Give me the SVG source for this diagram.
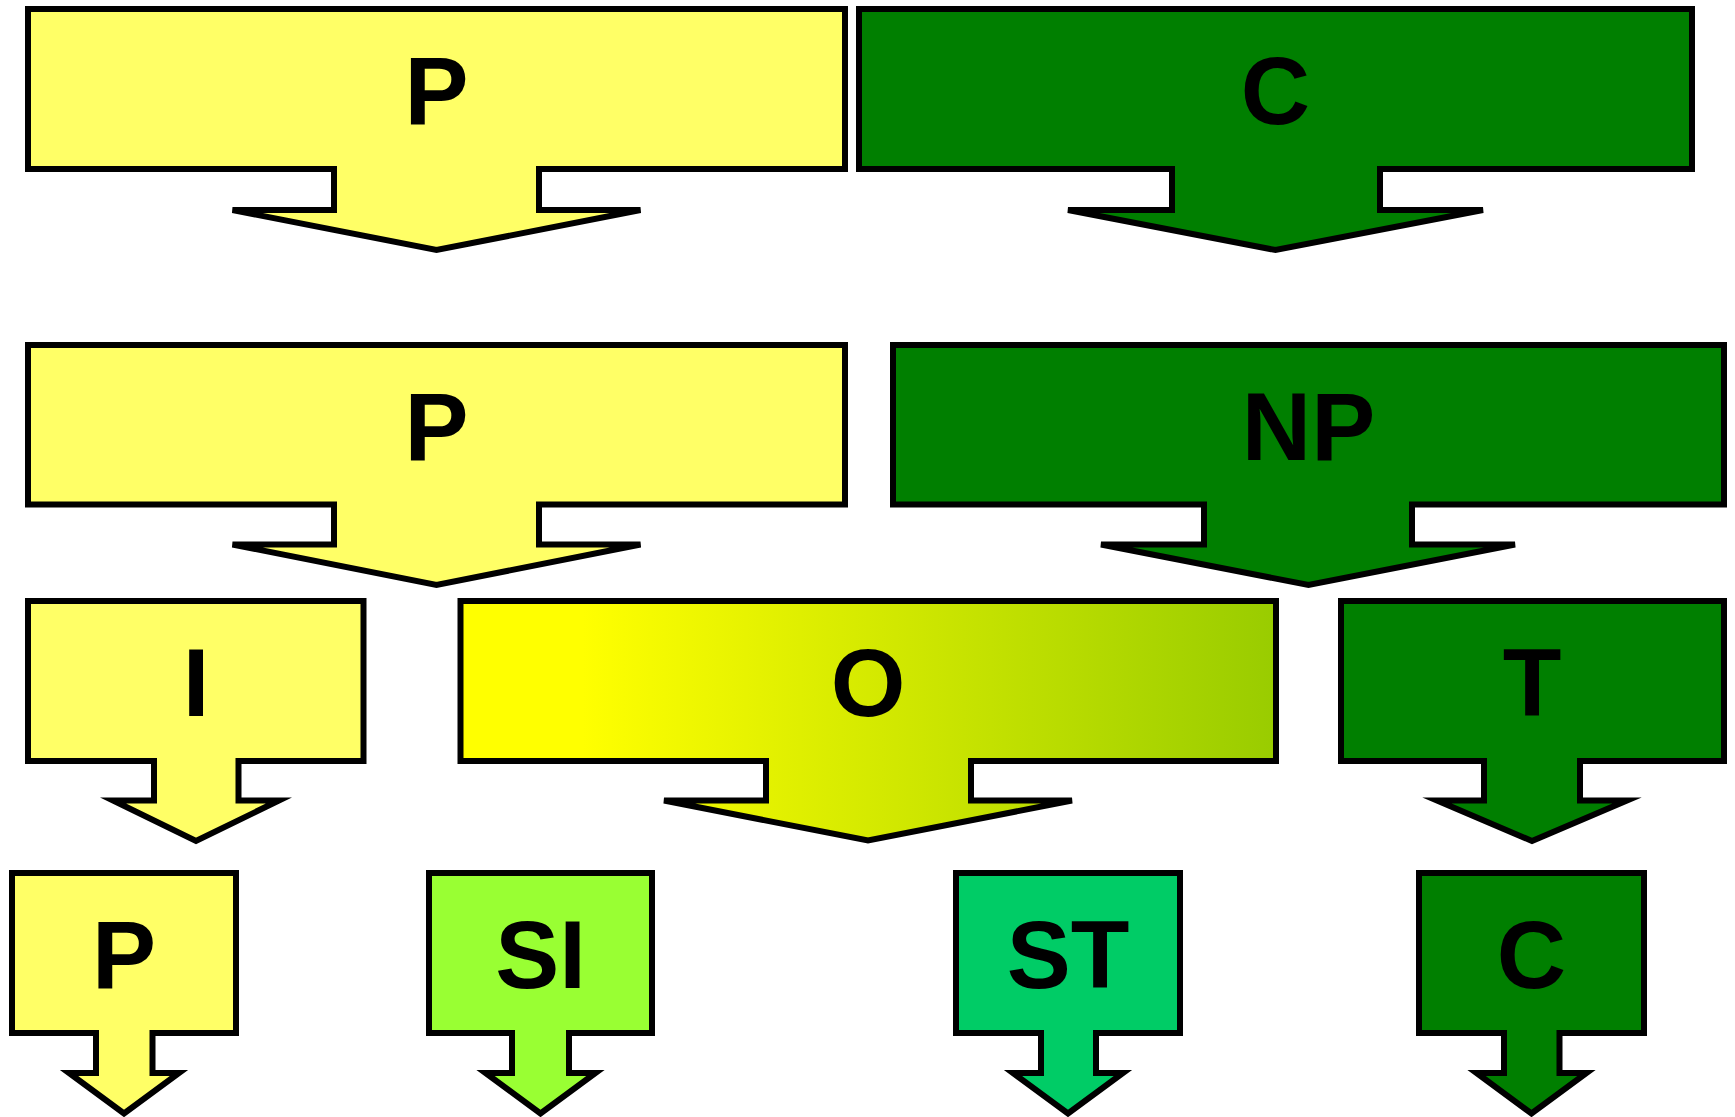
<svg xmlns="http://www.w3.org/2000/svg" width="1735" height="1117" viewBox="0 0 1735 1117">
  <defs>
    <linearGradient id="fadeYellowGreen" x1="0" y1="0" x2="1" y2="0">
      <stop offset="0" stop-color="#FFFF00"/>
      <stop offset="0.15" stop-color="#FFFF00"/>
      <stop offset="1" stop-color="#99CC00"/>
    </linearGradient>
    <style>
      .callout { stroke: #000000; stroke-width: 6; stroke-miterlimit: 8; stroke-linejoin: miter; }
      .pale { fill: #FFFF66; }
      .dark { fill: #007F00; }
      .lime { fill: #99FF33; }
      .mint { fill: #00CC66; }
      .fade { fill: url(#fadeYellowGreen); }
      .label { font-family: "Liberation Sans", Arial, sans-serif; font-weight: bold; font-size: 96px; fill: #000000; text-anchor: middle; }
    </style>
  </defs>
  <rect x="0" y="0" width="1735" height="1117" fill="#FFFFFF"/>

  <!-- row 1 -->
  <g id="node-p-top">
    <polygon class="callout pale" points="28,9 845,9 845,169 539,169 539,210 640.5,210 436.5,250 232.5,210 334,210 334,169 28,169"/>
    <text class="label" x="436.5" y="124">P</text>
  </g>
  <g id="node-c-top">
    <polygon class="callout dark" points="859,9 1692,9 1692,169 1380,169 1380,210 1483,210 1275.5,250 1068,210 1172,210 1172,169 859,169"/>
    <text class="label" x="1275.5" y="124">C</text>
  </g>

  <!-- row 2 -->
  <g id="node-p-mid">
    <polygon class="callout pale" points="28,345 845,345 845,504.5 539,504.5 539,544.5 640.5,544.5 436.5,585 232.5,544.5 334,544.5 334,504.5 28,504.5"/>
    <text class="label" x="436.5" y="459.5">P</text>
  </g>
  <g id="node-np">
    <polygon class="callout dark" points="893,345 1724,345 1724,504.5 1412,504.5 1412,544.5 1515,544.5 1308.5,585 1101,544.5 1204,544.5 1204,504.5 893,504.5"/>
    <text class="label" x="1308.5" y="459.5">NP</text>
  </g>

  <!-- row 3 -->
  <g id="node-i">
    <polygon class="callout pale" points="28,601 363.5,601 363.5,761 238.5,761 238.5,800.5 279,800.5 196,841 113,800.5 154,800.5 154,761 28,761"/>
    <text class="label" x="196" y="716">I</text>
  </g>
  <g id="node-o">
    <polygon class="callout fade" points="460.5,601 1276,601 1276,761 971,761 971,800.5 1072,800.5 868,840.5 664,800.5 766,800.5 766,761 460.5,761"/>
    <text class="label" x="868" y="716">O</text>
  </g>
  <g id="node-t">
    <polygon class="callout dark" points="1341,601 1724,601 1724,761 1580,761 1580,800.5 1627,800.5 1532,841 1437,800.5 1484,800.5 1484,761 1341,761"/>
    <text class="label" x="1532" y="716">T</text>
  </g>

  <!-- row 4 -->
  <g id="node-p-bottom">
    <polygon class="callout pale" points="12,873 236,873 236,1033 152.5,1033 152.5,1073 179,1073 124,1113.5 69,1073 96,1073 96,1033 12,1033"/>
    <text class="label" x="124" y="988">P</text>
  </g>
  <g id="node-si">
    <polygon class="callout lime" points="429,873 652,873 652,1033 569,1033 569,1073 595.5,1073 540.5,1113.5 485.5,1073 512,1073 512,1033 429,1033"/>
    <text class="label" x="540.5" y="988">SI</text>
  </g>
  <g id="node-st">
    <polygon class="callout mint" points="956,873 1180,873 1180,1033 1096,1033 1096,1073 1123,1073 1068,1113.5 1013,1073 1041,1073 1041,1033 956,1033"/>
    <text class="label" x="1068" y="988">ST</text>
  </g>
  <g id="node-c-bottom">
    <polygon class="callout dark" points="1419,873 1644,873 1644,1033 1559.5,1033 1559.5,1073 1586.5,1073 1531.5,1113.5 1476.5,1073 1504,1073 1504,1033 1419,1033"/>
    <text class="label" x="1531.5" y="988">C</text>
  </g>
</svg>
